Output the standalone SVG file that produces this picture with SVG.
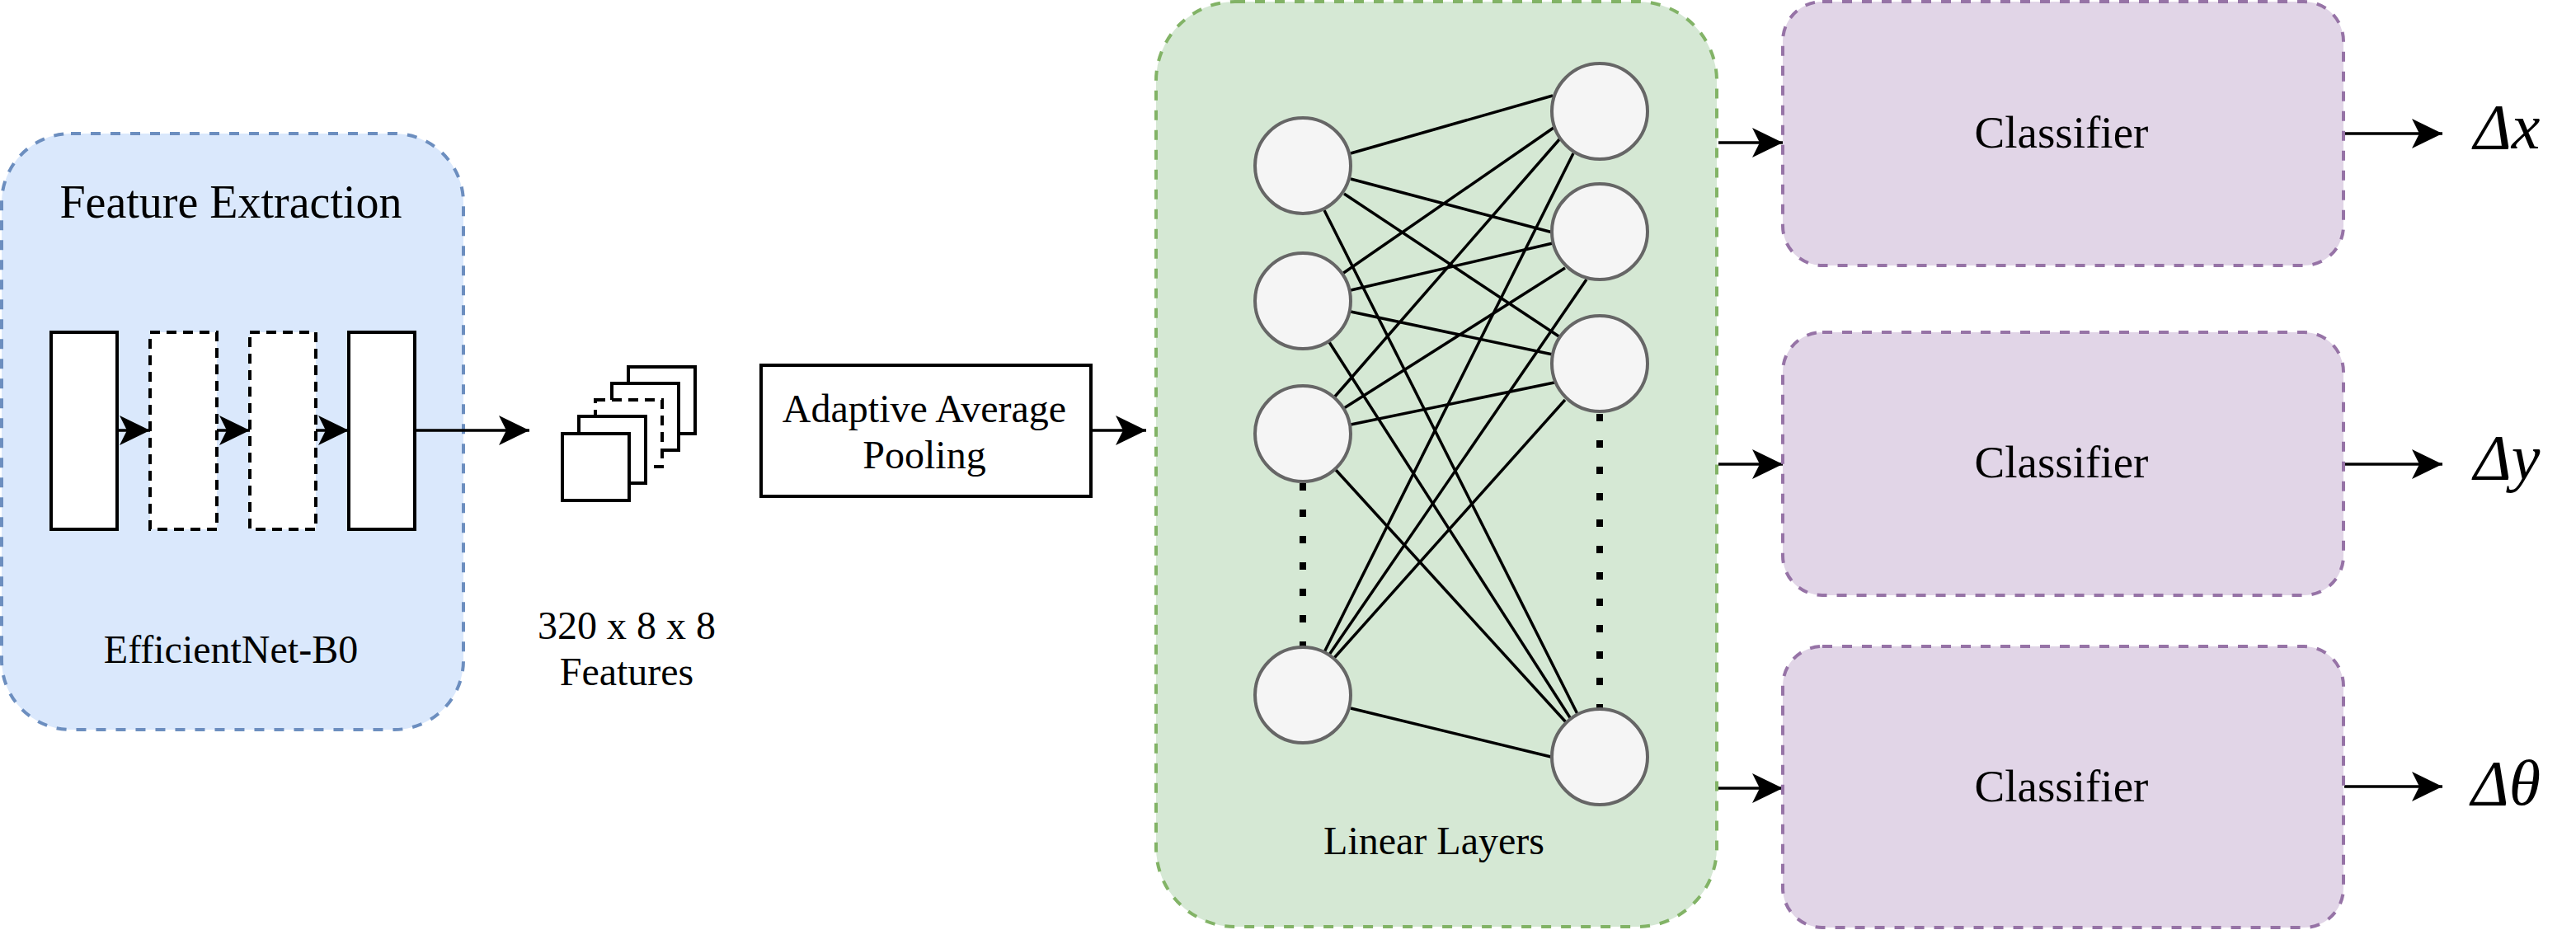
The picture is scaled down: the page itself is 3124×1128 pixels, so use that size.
<svg xmlns="http://www.w3.org/2000/svg" width="3124" height="1128" viewBox="0 0 3124 1128">
  <style>
    text { font-family: "Liberation Serif", "Times New Roman", serif; fill: #000; text-anchor: middle; }
    .panel { stroke-width: 4; stroke-dasharray: 12 12; }
    .blue { fill: #dae8fc; stroke: #6c8ebf; }
    .green { fill: #d5e8d4; stroke: #82b366; }
    .purple { fill: #e1d5e7; stroke: #9673a6; }
    .box { fill: #fff; stroke: #000; stroke-width: 4; }
    .dash { stroke-dasharray: 12 8; }
    .unit { fill: #f5f5f5; stroke: #666; stroke-width: 4; }
    .link { fill: none; stroke: #000; stroke-width: 3.5; }
    .arrow { fill: none; stroke: #000; stroke-width: 3.5; marker-end: url(#head); }
    .dots { fill: none; stroke: #000; stroke-width: 8; stroke-dasharray: 9 23; }
    .t48 { font-size: 48px; }
    .t55 { font-size: 55px; }
    .t56 { font-size: 56px; }
    .delta { font-size: 78px; font-style: italic; text-anchor: start; }
  </style>
  <defs>
    <marker id="head" markerUnits="userSpaceOnUse" markerWidth="38" markerHeight="38" refX="37" refY="19" orient="auto">
      <path d="M0 1 L37 19 L0 37 L9 19 Z" fill="#000"/>
    </marker>
  </defs>

  <g id="feature-extraction">
    <rect class="panel blue" x="2" y="162" width="560" height="723" rx="84"/>
    <text class="t56" x="280" y="264">Feature Extraction</text>
    <text class="t48" x="280" y="804">EfficientNet-B0</text>
  </g>
  <g id="block-1"><rect class="box" x="62" y="403" width="80" height="239"/></g>
  <g id="block-2"><rect class="box dash" x="182" y="403" width="81" height="239"/></g>
  <g id="block-3"><rect class="box dash" x="303" y="403" width="80" height="239"/></g>
  <g id="block-4"><rect class="box" x="423" y="403" width="80" height="239"/></g>

  <g id="feature-stack">
    <rect class="box" x="762" y="445" width="81" height="81"/>
    <rect class="box" x="742" y="465" width="81" height="81"/>
    <rect class="box dash" x="722" y="485" width="81" height="81"/>
    <rect class="box" x="702" y="505" width="81" height="81"/>
    <rect class="box" x="682" y="526" width="81" height="81"/>
    <text class="t48" x="760" y="775">320 x 8 x 8</text>
    <text class="t48" x="760" y="831">Features</text>
  </g>

  <g id="pooling">
    <rect class="box" x="923" y="443" width="400" height="159"/>
    <text class="t48" x="1121" y="512">Adaptive Average</text>
    <text class="t48" x="1121" y="568">Pooling</text>
  </g>

  <g id="linear-layers">
    <rect class="panel green" x="1402" y="2" width="680" height="1122" rx="96"/>
    <text class="t48" x="1739" y="1036">Linear Layers</text>
  </g>

  <g id="connectors">
    <g class="links">
      <path class="link" d="M1638 186 1883 116"/>
      <path class="link" d="M1638 217 1883 282"/>
      <path class="link" d="M1630 235 1892 409"/>
      <path class="link" d="M1606 255 1913 866"/>
      <path class="link" d="M1628 332 1884 155"/>
      <path class="link" d="M1638 352 1883 295"/>
      <path class="link" d="M1638 378 1883 430"/>
      <path class="link" d="M1612 415 1905 872"/>
      <path class="link" d="M1618 482 1892 168"/>
      <path class="link" d="M1630 495 1898 325"/>
      <path class="link" d="M1638 515 1885 464"/>
      <path class="link" d="M1620 570 1900 877"/>
      <path class="link" d="M1606 791 1908 186"/>
      <path class="link" d="M1612 794 1924 339"/>
      <path class="link" d="M1618 798 1898 485"/>
      <path class="link" d="M1638 859 1881 918"/>
    </g>
    <path class="dots" d="M1580 586V785"/>
    <path class="dots" d="M1940 502V860"/>
    <path class="arrow" d="M142 522H182"/>
    <path class="arrow" d="M263 522H303"/>
    <path class="arrow" d="M383 522H423"/>
    <path class="arrow" d="M503 522H642"/>
    <path class="arrow" d="M1323 522H1390"/>
    <path class="arrow" d="M2084 173H2162"/>
    <path class="arrow" d="M2084 563H2162"/>
    <path class="arrow" d="M2084 956H2162"/>
    <path class="arrow" d="M2843 162H2962"/>
    <path class="arrow" d="M2843 563H2962"/>
    <path class="arrow" d="M2843 954H2962"/>
  </g>

  <g id="unit-l1"><circle class="unit" cx="1580" cy="201" r="58"/></g>
  <g id="unit-l2"><circle class="unit" cx="1580" cy="365" r="58"/></g>
  <g id="unit-l3"><circle class="unit" cx="1580" cy="526" r="58"/></g>
  <g id="unit-l4"><circle class="unit" cx="1580" cy="843" r="58"/></g>
  <g id="unit-r1"><circle class="unit" cx="1940" cy="135" r="58"/></g>
  <g id="unit-r2"><circle class="unit" cx="1940" cy="281" r="58"/></g>
  <g id="unit-r3"><circle class="unit" cx="1940" cy="441" r="58"/></g>
  <g id="unit-r4"><circle class="unit" cx="1940" cy="918" r="58"/></g>

  <g id="classifier-x">
    <rect class="panel purple" x="2162" y="2" width="680" height="320" rx="48"/>
    <text class="t55" x="2500" y="179">Classifier</text>
  </g>
  <g id="classifier-y">
    <rect class="panel purple" x="2162" y="403" width="680" height="319" rx="48"/>
    <text class="t55" x="2500" y="579">Classifier</text>
  </g>
  <g id="classifier-theta">
    <rect class="panel purple" x="2162" y="784" width="680" height="341" rx="48"/>
    <text class="t55" x="2500" y="972">Classifier</text>
  </g>

  <g id="output-x"><text class="delta" x="3000" y="180">Δx</text></g>
  <g id="output-y"><text class="delta" x="3000" y="581">Δy</text></g>
  <g id="output-theta"><text class="delta" x="2997" y="976">Δθ</text></g>
</svg>
